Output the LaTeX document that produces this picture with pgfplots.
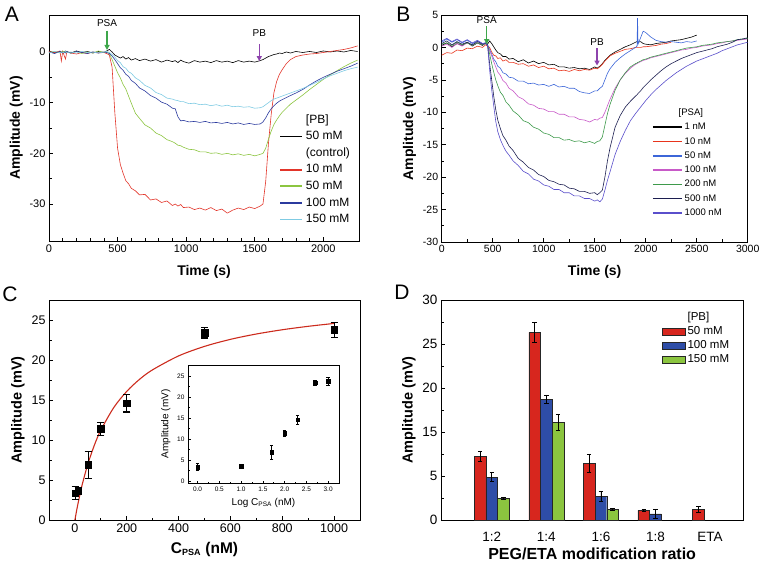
\documentclass[border=0pt]{standalone}
\usepackage{pgfplots}
\pgfplotsset{compat=1.18}
\usepackage{pgfplotstable}
\usepackage{fontspec}
\setmainfont{Liberation Sans}
\usetikzlibrary{arrows.meta}

\definecolor{aRed}{HTML}{E2352A}
\definecolor{aGreen}{HTML}{8CC540}
\definecolor{aBlue}{HTML}{2B3A9E}
\definecolor{aCyan}{HTML}{7FCBE3}
\definecolor{bRed}{HTML}{E8341C}
\definecolor{bBlue}{HTML}{3C66D8}
\definecolor{bMag}{HTML}{C85AC8}
\definecolor{bGreen}{HTML}{3E9A4B}
\definecolor{bNavy}{HTML}{1C1E50}
\definecolor{bPurple}{HTML}{5A4FCB}
\definecolor{arrGreen}{HTML}{3DA64A}
\definecolor{arrPurple}{HTML}{8E44AD}
\definecolor{fitRed}{HTML}{CC2B1D}
\definecolor{dRed}{HTML}{D7261E}
\definecolor{dBlue}{HTML}{2E4DA7}
\definecolor{dGreen}{HTML}{8BC53F}

\pgfplotstableread{
t K R G B C
0 0.2 0.1 -0.1 0.0 -0.2
40 -0.2 -0.1 0.1 -0.3 0.1
80 0.1 0.2 -0.2 0.1 -0.1
90 0.0 -1.8 0.0 -0.1 0.0
100 -0.3 0.1 0.2 0.0 -0.2
120 0.2 -1.4 -0.1 -0.2 0.1
130 0.0 0.0 0.1 0.1 -0.1
160 -0.2 -0.2 -0.2 -0.2 0.0
200 0.2 -0.4 0.1 0.1 -0.2
240 -0.1 -0.1 -0.3 -0.1 0.1
280 0.1 -0.3 0.0 -0.3 -0.1
320 -0.2 0.0 -0.2 0.0 0.0
360 0.1 -0.2 0.2 -0.2 -0.2
400 -0.1 -0.1 -0.1 0.0 0.0
420 0.2 -0.3 0.1 -0.1 0.1
440 0.5 -0.6 -0.3 -0.3 -0.1
460 0.0 -3.0 -1.5 -0.8 -0.5
480 -0.6 -12.0 -2.8 -1.5 -1.0
500 -0.9 -19.0 -4.1 -2.3 -1.7
520 -1.2 -22.2 -5.1 -3.1 -2.1
540 -0.9 -23.9 -6.4 -3.6 -2.9
560 -1.4 -25.4 -7.3 -4.4 -3.2
580 -1.1 -26.0 -8.7 -4.8 -3.9
600 -1.6 -26.9 -10.1 -5.6 -4.2
630 -1.3 -27.4 -12.1 -6.2 -5.1
660 -1.7 -28.2 -13.1 -7.1 -5.6
700 -1.4 -28.1 -14.4 -7.7 -6.6
740 -1.8 -29.2 -15.0 -8.6 -7.1
780 -1.5 -29.0 -16.0 -9.1 -8.0
820 -2.0 -29.7 -16.5 -9.9 -8.4
860 -1.6 -29.4 -17.3 -10.3 -9.1
900 -1.9 -30.3 -17.7 -11.1 -9.3
920 -1.7 -30.0 -18.0 -11.2 -9.5
940 -2.1 -30.4 -18.4 -12.8 -9.6
960 -1.6 -30.1 -18.5 -13.6 -9.8
980 -1.9 -30.7 -18.8 -13.5 -9.8
1020 -2.2 -30.6 -19.2 -13.8 -10.2
1060 -1.7 -31.1 -19.3 -13.7 -10.1
1100 -2.0 -30.8 -19.7 -13.9 -10.4
1140 -1.8 -31.2 -19.7 -13.7 -10.3
1180 -2.1 -30.7 -20.0 -14.0 -10.6
1220 -1.7 -31.3 -19.9 -13.9 -10.4
1260 -2.0 -31.0 -20.2 -14.1 -10.7
1300 -1.8 -31.8 -20.0 -13.9 -10.5
1340 -2.1 -31.2 -20.3 -14.2 -10.8
1380 -1.7 -30.8 -20.1 -14.0 -10.7
1420 -2.0 -31.1 -20.4 -14.3 -10.9
1460 -1.8 -30.6 -20.2 -14.1 -10.8
1500 -2.0 -30.9 -20.5 -14.3 -11.1
1540 -1.7 -30.4 -20.2 -14.2 -11.0
1560 -1.5 -30.0 -20.0 -13.8 -10.8
1580 -1.2 -25.5 -19.0 -13.0 -10.4
1600 -0.9 -18.0 -17.2 -12.0 -10.0
1620 -0.7 -12.3 -15.6 -11.2 -9.6
1640 -0.5 -8.0 -14.3 -10.6 -9.3
1660 -0.4 -5.8 -13.4 -10.1 -9.1
1680 -0.2 -4.4 -12.6 -9.7 -8.9
1700 -0.3 -3.5 -11.9 -9.4 -8.7
1730 0.0 -2.3 -11.1 -9.0 -8.4
1760 -0.2 -1.5 -10.3 -8.6 -8.1
1800 0.1 -0.9 -9.5 -8.1 -7.7
1850 -0.1 -0.6 -8.5 -7.4 -7.2
1900 0.1 -0.4 -7.4 -6.5 -6.6
1950 -0.1 -0.3 -6.4 -5.7 -6.0
2000 0.2 -0.1 -5.4 -5.0 -5.3
2050 0.0 0.1 -4.5 -4.4 -4.7
2100 0.2 0.3 -3.7 -3.8 -4.2
2150 0.0 0.5 -2.9 -3.3 -3.7
2200 0.3 0.8 -2.2 -2.8 -3.3
2250 0.1 1.2 -1.6 -2.2 -3.0
}\dataA

\pgfplotstableread{
t K R Bl M G N P
0 0.3 -1.2 0.8 0.2 0.5 0.6 1.0
50 0.7 -0.8 1.3 0.5 0.7 1.0 1.4
100 0.1 -0.9 0.8 0.0 0.3 0.4 0.9
150 0.6 -0.4 1.2 0.6 0.8 0.9 1.3
200 0.3 -0.5 0.7 0.2 0.4 0.5 0.8
250 0.8 -0.1 1.1 0.7 0.7 0.8 1.2
300 0.2 -0.2 0.6 0.3 0.3 0.4 0.7
350 0.7 0.2 1.0 0.7 0.7 0.9 1.1
400 0.3 0.0 0.6 0.4 0.4 0.5 0.6
430 0.7 0.4 0.7 0.6 0.6 0.6 0.7
450 0.5 0.2 0.4 0.3 0.4 0.4 0.3
470 1.0 0.0 -0.3 -0.5 -1.0 -2.5 -3.5
490 0.6 -0.7 -1.0 -1.3 -2.5 -5.0 -6.5
510 0.1 -1.2 -1.8 -2.2 -3.8 -7.5 -9.0
530 -0.4 -1.3 -2.2 -3.0 -5.0 -9.6 -11.4
550 -0.8 -1.7 -2.9 -3.8 -5.9 -11.2 -13.0
575 -1.0 -1.6 -3.2 -4.3 -6.9 -12.5 -14.2
600 -1.4 -2.1 -3.9 -5.1 -7.4 -13.6 -15.1
630 -1.4 -1.9 -4.1 -5.5 -8.4 -14.3 -16.0
660 -1.8 -2.3 -4.6 -6.3 -8.9 -15.2 -16.6
700 -1.7 -2.3 -4.7 -6.7 -9.8 -15.9 -17.5
750 -2.2 -2.6 -5.2 -7.6 -10.4 -17.1 -18.2
800 -1.9 -2.5 -5.2 -8.0 -11.3 -17.7 -19.1
850 -2.4 -2.9 -5.6 -8.7 -11.6 -18.5 -19.5
900 -2.1 -2.7 -5.5 -8.9 -12.3 -18.9 -20.3
950 -2.5 -3.1 -5.8 -9.4 -12.6 -19.6 -20.6
1000 -2.3 -2.9 -5.7 -9.5 -13.2 -19.9 -21.2
1050 -2.7 -3.3 -6.0 -9.9 -13.4 -20.5 -21.4
1100 -2.6 -3.2 -5.7 -9.9 -13.9 -20.7 -21.9
1150 -3.0 -3.6 -6.1 -10.3 -13.9 -21.1 -21.9
1200 -3.0 -3.5 -6.0 -10.3 -14.3 -21.2 -22.4
1250 -3.2 -3.7 -6.3 -10.7 -14.2 -21.7 -22.4
1300 -3.1 -3.4 -6.3 -10.7 -14.5 -21.8 -22.9
1350 -3.3 -3.6 -6.8 -11.1 -14.4 -22.2 -22.9
1400 -3.2 -3.4 -7.0 -11.2 -14.7 -22.2 -23.3
1450 -3.4 -3.5 -7.1 -11.5 -14.5 -22.5 -23.3
1500 -3.0 -3.2 -6.7 -11.1 -14.8 -22.4 -23.7
1525 -3.2 -3.3 -6.7 -11.2 -14.5 -22.7 -23.5
1550 -2.9 -3.0 -6.3 -10.9 -14.4 -22.4 -23.8
1575 -2.5 -2.6 -6.0 -10.8 -13.8 -22.0 -23.4
1600 -2.0 -2.1 -5.0 -10.0 -12.0 -20.0 -22.0
1625 -1.6 -1.7 -4.0 -9.0 -10.2 -17.5 -20.5
1650 -1.2 -1.3 -3.3 -8.0 -8.8 -15.5 -19.2
1700 -0.7 -0.9 -2.3 -6.3 -6.6 -12.3 -16.5
1750 -0.3 -0.6 -1.6 -5.0 -5.0 -10.5 -14.5
1800 0.1 -0.3 -1.0 -4.0 -3.9 -9.2 -12.8
1850 0.4 -0.2 -0.5 -3.2 -3.0 -8.3 -11.3
1900 0.8 0.0 0.0 -2.6 -2.5 -7.5 -10.2
1915 0.9 0.0 0.2 -2.5 -2.4 -7.3 -9.9
1920 0.9 0.0 4.5 -2.4 -2.3 -7.2 -9.8
1925 0.8 0.0 0.5 -2.4 -2.3 -7.1 -9.7
1950 0.9 0.0 1.5 -2.2 -2.1 -6.7 -9.2
1975 0.6 0.1 2.5 -2.0 -1.9 -6.2 -8.7
2000 0.5 0.1 2.3 -1.9 -1.8 -5.8 -8.2
2050 0.4 0.2 1.6 -1.6 -1.5 -5.0 -7.3
2100 0.6 0.3 1.1 -1.4 -1.3 -4.3 -6.5
2150 0.7 0.5 0.9 -1.2 -1.1 -3.6 -5.8
2200 0.8 0.6 0.8 -1.0 -0.9 -3.0 -5.1
2250 1.0 0.8 0.9 -0.8 -0.7 -2.5 -4.5
2300 1.1 nan 0.8 -0.6 -0.5 -2.1 -3.9
2350 1.2 nan 0.7 -0.4 -0.3 -1.7 -3.4
2400 1.4 nan 0.9 -0.3 -0.1 -1.4 -2.9
2450 1.6 nan 0.8 -0.1 0.0 -1.1 -2.5
2500 1.9 nan 1.0 0.0 0.1 -0.8 -2.1
2550 nan nan nan 0.2 0.3 -0.6 -1.8
2600 nan nan nan 0.3 0.4 -0.4 -1.5
2650 nan nan nan 0.4 0.5 -0.2 -1.2
2700 nan nan nan 0.6 0.7 0.1 -0.9
2750 nan nan nan 0.7 0.8 0.3 -0.5
2800 nan nan nan 0.9 0.9 0.5 -0.2
2850 nan nan nan 1.0 1.0 0.8 0.1
2900 nan nan nan 1.1 1.2 1.2 0.4
2950 nan nan nan 1.2 1.3 1.3 0.6
3000 nan nan nan 1.3 1.4 1.5 0.8
}\dataB

\pgfplotsset{
  panel/.style={
    scale only axis, anchor=south west,
    tick align=inside, tick pos=left,
    axis line style={line width=0.9pt},
    tick style={line width=0.7pt, black},
    major tick length=4pt, minor tick length=2.5pt,
    /pgf/number format/assume math mode=true,
    /pgf/number format/1000 sep={},
    legend cell align=left,
    unbounded coords=jump,
  },
  linelegA/.style={legend image code/.code={\draw[##1, line width=1.7pt] (0pt,0pt) -- (22pt,0pt);}},
  linelegB/.style={legend image code/.code={\draw[##1, line width=1.6pt] (0pt,0pt) -- (29pt,0pt);}},
  patchleg/.style={legend image code/.code={\draw[##1,/tikz/.cd] (0pt,-3.5pt) rectangle (23pt,3.5pt);}},
}

\begin{document}
\begin{tikzpicture}
\useasboundingbox (0pt,0pt) rectangle (761pt,563pt);

% ---------------- Panel A
\begin{axis}[panel, at={(49pt,322pt)}, width=310pt, height=226pt,
  xmin=0, xmax=2260, ymin=-37.3, ymax=7.3,
  xtick={0,500,1000,1500,2000}, minor x tick num=4,
  ytick={-30,-20,-10,0}, minor y tick num=1,
  tick label style={font=\fontsize{11}{13}\selectfont},
  xlabel={Time (s)}, ylabel={Amplitude (mV)},
  label style={font=\bfseries\fontsize{14}{16}\selectfont},
  xlabel style={yshift=-6pt},
  legend style={draw=none, fill=none, at={(0.742,0.562)}, anchor=north west,
    font=\fontsize{12}{14}\selectfont, row sep=5.1pt, column sep=3pt,
    inner sep=0pt, nodes={inner sep=0pt, text height=9pt, text depth=2.5pt}},
  linelegA,
]
\addlegendimage{empty legend}\addlegendentry{[PB]}
\addplot[black, line width=0.6pt] table[x=t,y=K]{\dataA};
\addlegendentry{50 mM}
\addlegendimage{empty legend}\addlegendentry{(control)}
\addplot[aRed, line width=0.6pt] table[x=t,y=R]{\dataA};
\addlegendentry{10 mM}
\addplot[aGreen, line width=0.6pt] table[x=t,y=G]{\dataA};
\addlegendentry{50 mM}
\addplot[aBlue, line width=0.6pt] table[x=t,y=B]{\dataA};
\addlegendentry{100 mM}
\addplot[aCyan, line width=0.6pt] table[x=t,y=C]{\dataA};
\addlegendentry{150 mM}
\draw[-{Triangle[length=5pt,width=5pt]}, line width=1.2pt, arrGreen] (axis cs:423,4.2) -- (axis cs:423,0.4);
\node[font=\fontsize{10}{12}\selectfont] at (axis cs:423,5.7) {PSA};
\draw[-{Triangle[length=5pt,width=5pt]}, line width=1.2pt, arrPurple] (axis cs:1533,1.6) -- (axis cs:1533,-1.8);
\node[font=\fontsize{10}{12}\selectfont] at (axis cs:1533,3.7) {PB};
\end{axis}

% ---------------- Panel B
\begin{axis}[panel, at={(441.7pt,321pt)}, width=306pt, height=227pt,
  xmin=0, xmax=3000, ymin=-30, ymax=5,
  xtick={0,500,...,3000}, minor x tick num=1,
  ytick={-30,-25,...,5}, minor y tick num=1,
  tick label style={font=\fontsize{10.5}{12}\selectfont},
  xlabel={Time (s)}, ylabel={Amplitude (mV)},
  label style={font=\bfseries\fontsize{14}{16}\selectfont},
  xlabel style={yshift=-6pt},
  legend style={draw=none, fill=none, at={(0.687,0.589)}, anchor=north west,
    font=\fontsize{9.5}{11}\selectfont, row sep=5.6pt, column sep=2pt,
    inner sep=0pt, nodes={inner sep=0pt, text height=7pt, text depth=1.7pt}},
  linelegB,
]
\addlegendimage{empty legend}\addlegendentry{\hspace*{-6pt}[PSA]}
\addplot[black, line width=0.6pt] table[x=t,y=K]{\dataB};
\addlegendentry{1 nM}
\addplot[bRed, line width=0.6pt] table[x=t,y=R]{\dataB};
\addlegendentry{10 nM}
\addplot[bBlue, line width=0.6pt] table[x=t,y=Bl]{\dataB};
\addlegendentry{50 nM}
\addplot[bMag, line width=0.6pt] table[x=t,y=M]{\dataB};
\addlegendentry{100 nM}
\addplot[bGreen, line width=0.6pt] table[x=t,y=G]{\dataB};
\addlegendentry{200 nM}
\addplot[bNavy, line width=0.6pt] table[x=t,y=N]{\dataB};
\addlegendentry{500 nM}
\addplot[bPurple, line width=0.6pt] table[x=t,y=P]{\dataB};
\addlegendentry{1000 nM}
\draw[-{Triangle[length=5pt,width=5pt]}, line width=1.2pt, arrGreen] (axis cs:441,3.3) -- (axis cs:441,0.5);
\node[font=\fontsize{10}{12}\selectfont] at (axis cs:441,4.2) {PSA};
\draw[-{Triangle[length=5pt,width=5pt]}, line width=1.2pt, arrPurple] (axis cs:1523,-0.1) -- (axis cs:1523,-2.8);
\node[font=\fontsize{10}{12}\selectfont] at (axis cs:1523,0.9) {PB};
\end{axis}

% ---------------- Panel C
\begin{axis}[panel, at={(49pt,43pt)}, width=311pt, height=220pt,
  xmin=-100, xmax=1100, ymin=0, ymax=27.5,
  xtick={0,200,...,1000}, minor x tick num=1,
  ytick={0,5,...,25}, minor y tick num=1,
  tick label style={font=\fontsize{12.5}{14}\selectfont},
  xlabel={C\textsubscript{\fontsize{9}{10}\selectfont PSA} (nM)}, ylabel={Amplitude (mV)},
  xlabel style={font=\bfseries\fontsize{15.5}{17}\selectfont, yshift=-3pt},
  ylabel style={font=\bfseries\fontsize{14.5}{16}\selectfont},
]
\addplot[fitRed, line width=1.1pt, smooth] coordinates {
(0,0) (5,0.90) (10,1.75) (20,3.29) (30,4.66) (50,7.00) (75,9.35) (100,11.23)
(150,14.06) (200,16.08) (250,17.60) (300,18.78) (400,20.51) (500,21.70)
(600,22.58) (700,23.25) (800,23.78) (900,24.21) (1000,24.57)};
\addplot[black, only marks, mark=square*, mark size=3.3pt,
  error bars/.cd, y dir=both, y explicit,
  error bar style={line width=1.1pt, black},
  error mark options={rotate=90, mark size=3.5pt, line width=1.1pt, black}]
coordinates {
(1,3.35) +- (0,0.8)
(12,3.65) +- (0,0.45)
(51,6.9) +- (0,1.7)
(100,11.4) +- (0,0.8)
(200,14.6) +- (0,1.1)
(500,23.4) +- (0,0.65)
(1000,23.75) +- (0,0.9)};
\end{axis}

% ---------------- Inset
\begin{axis}[panel, at={(188pt,80pt)}, width=151pt, height=118pt,
  axis background/.style={fill=white},
  axis line style={line width=0.8pt},
  xmin=-0.22, xmax=3.25, ymin=-0.4, ymax=27.6,
  xtick={0,0.5,1,1.5,2,2.5,3}, minor x tick num=1,
  ytick={0,5,...,25}, minor y tick num=1,
  major tick length=2.5pt, minor tick length=1.5pt,
  tick label style={font=\fontsize{6.5}{7}\selectfont},
  xticklabel style={/pgf/number format/.cd, fixed, fixed zerofill, precision=1},
  xlabel={Log C\textsubscript{\fontsize{6.5}{7}\selectfont PSA} (nM)}, ylabel={Amplitude (mV)},
  label style={font=\fontsize{10}{11}\selectfont},
]
\addplot[black, only marks, mark=square*, mark size=1.8pt,
  error bars/.cd, y dir=both, y explicit,
  error bar style={line width=0.8pt, black},
  error mark options={rotate=90, mark size=1.8pt, line width=0.8pt, black}]
coordinates {
(0,3.35) +- (0,0.8)
(1,3.65) +- (0,0.4)
(1.7,6.9) +- (0,1.7)
(2,11.4) +- (0,0.8)
(2.3,14.6) +- (0,1.1)
(2.7,23.4) +- (0,0.6)
(3,23.75) +- (0,0.9)};
\end{axis}

% ---------------- Panel D
\begin{axis}[panel, at={(441pt,43pt)}, width=302.3pt, height=220pt,
  xmin=-0.93, xmax=4.61, ymin=0, ymax=30,
  xtick={0,1,2,3,4}, xticklabels={1:2,1:4,1:6,1:8,ETA},
  xtick style={draw=none},
  xticklabel style={yshift=-5pt},
  ytick={0,6,12,18,24,30}, yticklabels={0,5,15,20,25,30}, minor y tick num=1,
  tick label style={font=\fontsize{13.5}{15}\selectfont},
  xlabel={PEG/ETA modification ratio}, ylabel={Amplitude (mV)},
  xlabel style={font=\bfseries\fontsize{16}{18}\selectfont, yshift=1pt},
  ylabel style={font=\bfseries\fontsize{14.5}{16}\selectfont},
  ybar=0pt, bar width=11.7pt,
  error bars/y dir=both, error bars/y explicit,
  error bars/error bar style={line width=0.6pt, black},
  error bars/error mark options={rotate=90, mark size=2.2pt, line width=0.6pt, black},
  legend style={draw=none, fill=none, at={(0.731,0.945)}, anchor=north west,
    font=\fontsize{11.5}{13}\selectfont, row sep=3.4pt, column sep=2pt,
    inner sep=0pt, nodes={inner sep=0pt, text height=8.5pt, text depth=2pt}},
  patchleg,
]
\addlegendimage{empty legend}\addlegendentry{[PB]}
\addplot[fill=dRed, draw=black!85, line width=0.4pt] coordinates {
(0,8.64) +- (0,0.7) (1,25.6) +- (0,1.35) (2,7.77) +- (0,1.2) (3,1.32) +- (0,0.08) (4,1.41) +- (0,0.4)};
\addlegendentry{50 mM}
\addplot[fill=dBlue, draw=black!85, line width=0.4pt] coordinates {
(0,5.86) +- (0,0.65) (1,16.45) +- (0,0.6) (2,3.27) +- (0,0.7) (3,0.82) +- (0,0.6)};
\addlegendentry{100 mM}
\addplot[fill=dGreen, draw=black!85, line width=0.4pt] coordinates {
(0,2.95) +- (0,0.15) (1,13.27) +- (0,1.1) (2,1.41) +- (0,0.15)};
\addlegendentry{150 mM}
\end{axis}

% panel letters
\node[font=\fontsize{21}{21}\selectfont, inner sep=0pt] at (12pt,549pt) {A};
\node[font=\fontsize{21}{21}\selectfont, inner sep=0pt] at (403.5pt,549pt) {B};
\node[font=\fontsize{21}{21}\selectfont, inner sep=0pt] at (10pt,269pt) {C};
\node[font=\fontsize{21}{21}\selectfont, inner sep=0pt] at (402pt,270.5pt) {D};
\end{tikzpicture}
\end{document}
